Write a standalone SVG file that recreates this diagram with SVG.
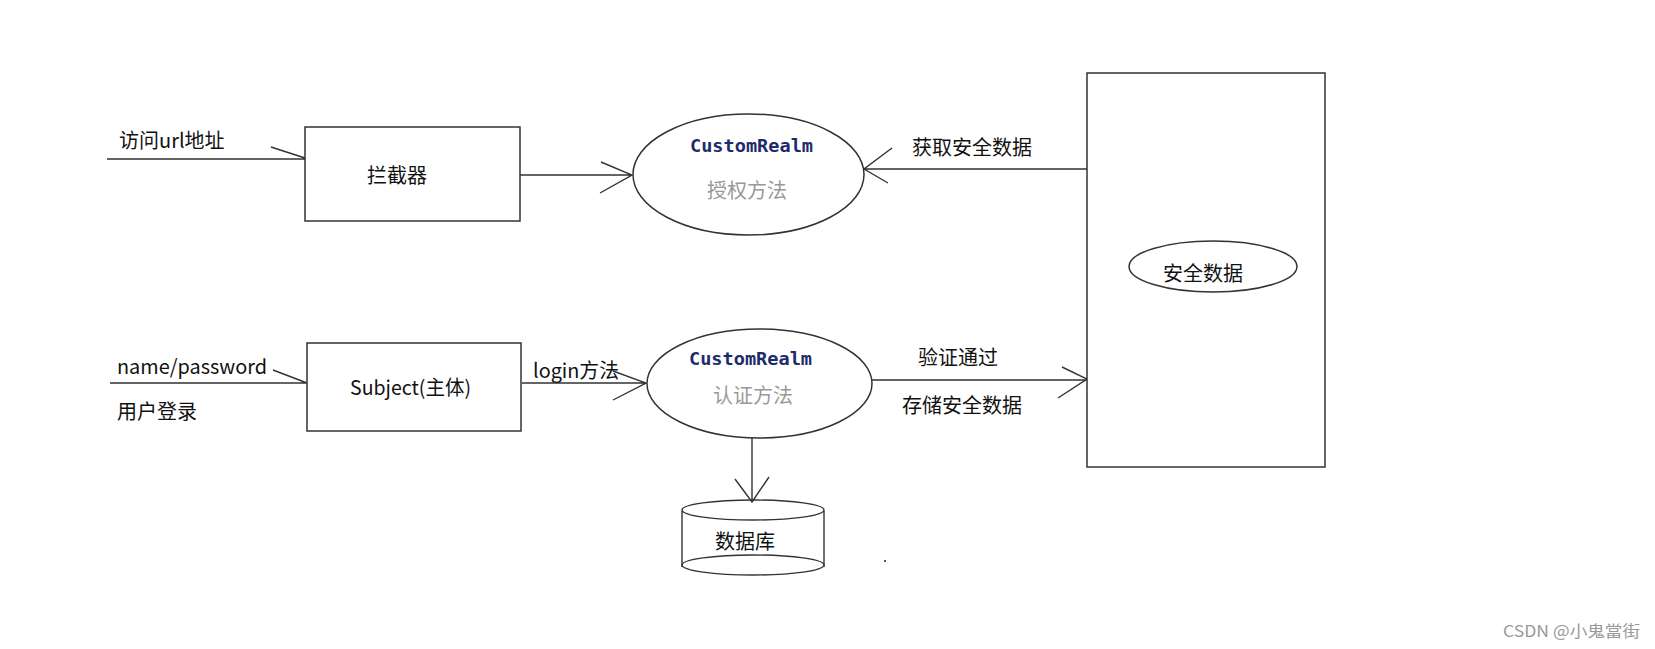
<svg xmlns="http://www.w3.org/2000/svg" width="1655" height="649" viewBox="0 0 1655 649">
<style>
.ln{fill:none;stroke:#333;stroke-width:1.4}
.sh{fill:#fff;stroke:#333;stroke-width:1.5}
.t{font-family:"Noto Sans CJK SC","Liberation Sans",sans-serif;font-size:20px;fill:#111}
.g{font-family:"Noto Sans CJK SC","Liberation Sans",sans-serif;font-size:20px;fill:#999}
.cr{font-family:"DejaVu Sans Mono","Liberation Mono",monospace;font-weight:bold;font-size:17px;fill:#1d2b6b}
.wm{font-family:"Noto Sans CJK SC","Liberation Sans",sans-serif;font-size:16px;fill:#999}
</style>
<rect width="1655" height="649" fill="#fff"/>
<g id="connectors">
<path class="ln" d="M107 159H305M271 147L305 158"/>
<path class="ln" d="M520 175H632M601 162L632 175L600 193"/>
<path class="ln" d="M1087 169H864M892 148L864 169L888 183"/>
<path class="ln" d="M110 383H307M273 370L307 383"/>
<path class="ln" d="M522 383H646M613 371L646 383L613 400"/>
<path class="ln" d="M872 380H1087M1062 367L1087 379L1058 398"/>
<path class="ln" d="M752 438V502M735 479L752 502L769 477"/>
</g>
<g id="labels">
<text class="t" x="119" y="148">访问url地址</text>
<text class="t" x="117" y="374" textLength="150" lengthAdjust="spacingAndGlyphs">name/password</text>
<text class="t" x="117" y="419">用户登录</text>
<text class="t" x="533" y="378" textLength="86" lengthAdjust="spacingAndGlyphs">login方法</text>
<text class="t" x="912" y="155">获取安全数据</text>
<text class="t" x="918" y="365">验证通过</text>
<text class="t" x="902" y="413">存储安全数据</text>
</g>
<g id="interceptor">
<rect class="sh" x="305" y="127" width="215" height="94"/>
<text class="t" x="367" y="183">拦截器</text>
</g>
<g id="authz-realm">
<ellipse class="sh" cx="748.5" cy="174.5" rx="115.5" ry="60.5"/>
<text class="cr" x="690" y="152" textLength="123" lengthAdjust="spacingAndGlyphs">CustomRealm</text>
<text class="g" x="707" y="198">授权方法</text>
</g>
<g id="subject">
<rect class="sh" x="307" y="343" width="214" height="88"/>
<text class="t" x="350" y="395" textLength="121" lengthAdjust="spacingAndGlyphs">Subject(主体)</text>
</g>
<g id="authc-realm">
<ellipse class="sh" cx="759.5" cy="383.5" rx="112.5" ry="54.5"/>
<text class="cr" x="689" y="365" textLength="123" lengthAdjust="spacingAndGlyphs">CustomRealm</text>
<text class="g" x="713" y="403">认证方法</text>
</g>
<g id="security-store">
<rect class="sh" x="1087" y="73" width="238" height="394"/>
<ellipse class="sh" cx="1213" cy="266.5" rx="84" ry="25.5"/>
<text class="t" x="1163" y="281">安全数据</text>
</g>
<g id="database">
<path class="ln" d="M682 511V567M824 511V567"/>
<ellipse class="ln" cx="753" cy="510" rx="71" ry="10"/>
<ellipse class="ln" cx="753" cy="565" rx="71" ry="10"/>
<text class="t" x="715" y="549">数据库</text>
</g>
<rect x="884" y="560" width="2" height="2" fill="#555"/>
<text class="wm" x="1503" y="637" textLength="137" lengthAdjust="spacingAndGlyphs">CSDN @小鬼當街</text>
</svg>
